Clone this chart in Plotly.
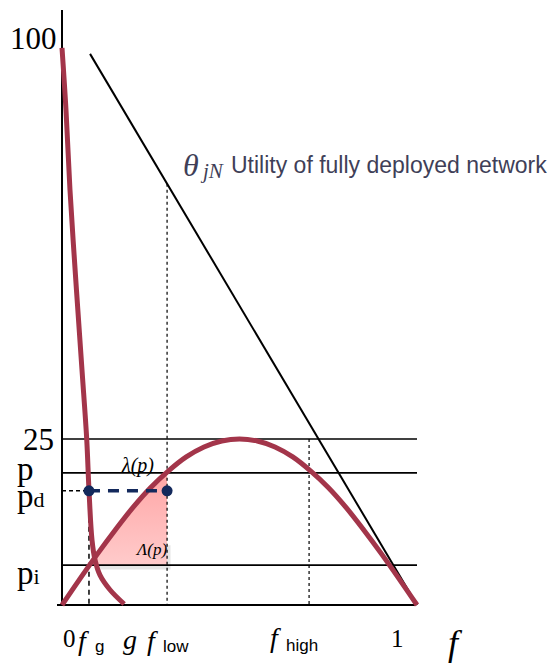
import plotly.graph_objects as go

# ---- data (schematic units: x in [0,1], y with the "25" level = 25) ----
F_G = 0.076
F_LOW = 0.296
F_HIGH = 0.696

Y_TOP = 83.9      # level labelled "100"
Y_25 = 25.0
Y_P = 19.9
Y_PD = 17.2
Y_PI = 6.0
Y_AXIS_TOP = 89.6

steep_x = [0.0, 0.0113, 0.0225, 0.0408, 0.0563, 0.0696, 0.0761, 0.0845, 0.093, 0.107, 0.135, 0.175]
steep_y = [83.9, 74.5, 62.5, 47.4, 35.4, 25.0, 17.2, 9.8, 6.8, 4.5, 2.3, 0.15]

para_x = [0, 0.05, 0.1, 0.15, 0.2, 0.25, 0.3, 0.35, 0.4, 0.45, 0.5,
          0.55, 0.6, 0.65, 0.7, 0.75, 0.8, 0.85, 0.9, 0.95, 1.0]
para_y = [0, 3.9, 7.7, 11.3, 14.7, 17.7, 20.2, 22.3, 23.8, 24.7, 25.0,
          24.7, 23.8, 22.3, 20.2, 17.7, 14.7, 11.3, 7.7, 3.9, 0]

util_x = [0.079, 1.0]
util_y = [83.0, 0.0]

fill_x = [0.078, 0.1, 0.15, 0.2, 0.25, 0.296, 0.296, 0.078]
fill_y = [6.0, 7.7, 11.3, 14.7, 17.7, 20.4, 6.0, 6.0]

# ---- layout helpers: reference page pixels -> data units ----
PX_X0, PX_PER_X = 62.0, 355.0
PX_Y0, PX_PER_Y = 605.0, 6.64
PAGE_W, PAGE_H = 555, 664
OFF = 8  # default page margin around the plot div
W, H = PAGE_W - OFF, PAGE_H - OFF


def dx(px):
    return (px - PX_X0) / PX_PER_X


def dy(py):
    return (PX_Y0 - py) / PX_PER_Y


RED = "#a3354a"
NAVY = "#13295c"
SERIF = "Liberation Serif"
SANS = "Liberation Sans"
LABEL_GREY = "#3f3f58"

fig = go.Figure()

# soft shadow under the shaded region
fig.add_trace(go.Scatter(x=[0.1, F_LOW + 0.004, F_LOW + 0.004], y=[Y_PI - 0.35, Y_PI - 0.35, 9.0],
                         mode="lines", line=dict(color="rgba(90,90,90,0.15)", width=4),
                         hoverinfo="skip", showlegend=False))

# shaded Lambda(p) region
fig.add_trace(go.Scatter(
    x=fill_x, y=fill_y, mode="lines", fill="toself",
    line=dict(width=0), fillcolor="rgba(255,178,178,0.85)",
    fillgradient=dict(type="vertical",
                      colorscale=[[0, "rgba(255,200,200,0.95)"], [1, "rgba(255,160,160,0.95)"]]),
    hoverinfo="skip", showlegend=False))

# axes
fig.add_trace(go.Scatter(x=[0, 0], y=[0, Y_AXIS_TOP], mode="lines",
                         line=dict(color="black", width=2), showlegend=False))
fig.add_trace(go.Scatter(x=[dx(57), 0.995], y=[0, 0], mode="lines",
                         line=dict(color="black", width=2), showlegend=False))

# horizontal levels
for lvl in [Y_25, Y_P, Y_PI]:
    fig.add_trace(go.Scatter(x=[0, 1.0], y=[lvl, lvl], mode="lines",
                             line=dict(color="black", width=1.6), showlegend=False))

# pd dashed (black) and f_g dashed vertical
fig.add_trace(go.Scatter(x=[0, F_G], y=[Y_PD, Y_PD], mode="lines",
                         line=dict(color="black", width=1.5, dash="4px,3px"), showlegend=False))
fig.add_trace(go.Scatter(x=[F_G, F_G], y=[Y_PD, 0], mode="lines",
                         line=dict(color="black", width=1.5, dash="5px,4px"), showlegend=False))

# dotted verticals
f_low_top = util_y[0] * (1 - F_LOW) / (1 - util_x[0])
fig.add_trace(go.Scatter(x=[F_LOW, F_LOW], y=[f_low_top, 0], mode="lines",
                         line=dict(color="black", width=1.2, dash="dot"), showlegend=False))
fig.add_trace(go.Scatter(x=[F_HIGH, F_HIGH], y=[Y_25, 0], mode="lines",
                         line=dict(color="black", width=1.2, dash="dot"), showlegend=False))

# utility of fully deployed network
fig.add_trace(go.Scatter(x=util_x, y=util_y, mode="lines",
                         line=dict(color="black", width=2), showlegend=False))

# red curves
fig.add_trace(go.Scatter(x=para_x, y=para_y, mode="lines", line_shape="spline",
                         line=dict(color=RED, width=5), showlegend=False))
fig.add_trace(go.Scatter(x=steep_x, y=steep_y, mode="lines", line_shape="spline",
                         line=dict(color=RED, width=5), showlegend=False))

# lambda(p) navy dashed with dots
fig.add_trace(go.Scatter(x=[F_G, F_LOW], y=[Y_PD, Y_PD], mode="lines+markers",
                         line=dict(color=NAVY, width=3.5, dash="11px,8px"),
                         marker=dict(color=NAVY, size=11), showlegend=False, cliponaxis=False))

ann = []


def A(text, px, py, size, family=SERIF, color="black", xanchor="center", yanchor="middle"):
    ann.append(dict(text=text, x=dx(px), y=dy(py), xref="x", yref="y", showarrow=False,
                    xanchor=xanchor, yanchor=yanchor,
                    font=dict(family=family, size=size, color=color)))


# y labels
A("100", 59, 38, 31, xanchor="right")
A("25", 56, 439, 31, xanchor="right")
A("p", 15, 469, 33, xanchor="left")
A("p<span style='font-size:22px'>d</span>", 15, 496, 33, xanchor="left")
A("p<span style='font-size:22px'>i</span>", 15, 573, 33, xanchor="left")

# x labels
A("0", 69, 638, 25)
A("<i>f</i>", 83, 640, 28)
A("g", 99, 646, 17, family=SANS)
A("<i>g</i>", 130, 639, 28)
A("<i>f</i>", 152, 640, 28)
A("low", 176, 646, 17, family=SANS)
A("<i>f</i>", 275, 637, 28)
A("high", 302, 645, 17, family=SANS)
A("1", 397, 638, 25)
A("<i>f</i>", 455, 643, 36)

# curve labels
A("<i>λ(p)</i>", 137, 465, 20)
A("<i>Λ(p)</i>", 151, 549, 17)
A("<i>θ</i>", 181, 165, 32, color=LABEL_GREY, xanchor="left")
A("<i>jN</i>", 198, 171, 21, color=LABEL_GREY, xanchor="left")
A("Utility of fully deployed network", 229, 165, 23, family=SANS, color=LABEL_GREY, xanchor="left")

fig.update_layout(
    width=W, height=H,
    margin=dict(l=0, r=0, t=0, b=0),
    paper_bgcolor="white", plot_bgcolor="white",
    xaxis=dict(range=[dx(OFF), dx(PAGE_W)], visible=False, fixedrange=True),
    yaxis=dict(range=[dy(PAGE_H), dy(OFF)], visible=False, fixedrange=True),
    annotations=ann,
    showlegend=False,
)

fig.write_html("out.html")
